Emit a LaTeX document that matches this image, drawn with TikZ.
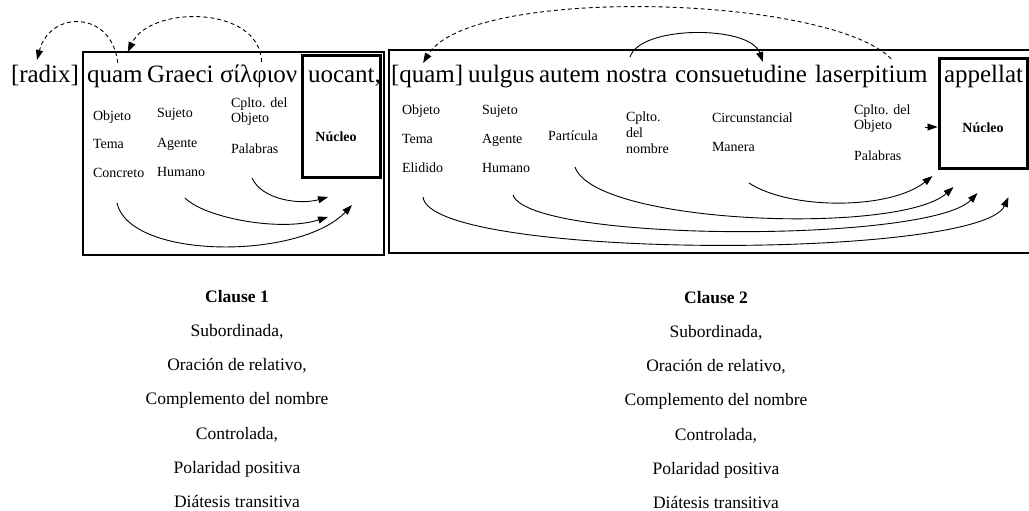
\documentclass[tikz,border=0pt]{standalone}
\usepackage{fontspec}
\setmainfont{Liberation Serif}
\usetikzlibrary{arrows.meta,calc}
\begin{document}
\begin{tikzpicture}[x=1pt,y=-1pt,
  word/.style={anchor=base west,inner sep=0pt,outer sep=0pt,text height=21pt,text depth=6pt,font=\fontsize{25}{30}\selectfont},
  lab/.style={anchor=west,inner sep=0pt,outer sep=0pt,align=left,font=\fontsize{14}{15}\selectfont},
  labone/.style={lab,text height=10pt,text depth=3pt},
  nuctext/.style={inner sep=0pt,font=\fontsize{14}{15}\selectfont\bfseries},
  frame/.style={draw,line width=1.6pt,inner sep=0pt,outer sep=0pt},
  nucbox/.style={draw,line width=3pt,inner sep=0pt,outer sep=0pt},
  rel/.style={-{Triangle[length=10pt,width=7pt]},line width=0.9pt},
  coref/.style={rel,dash pattern=on 4pt off 3pt},
  info/.style={align=center,inner sep=0pt,font=\fontsize{17.5}{34.2}\selectfont},
]
\useasboundingbox (0,0) rectangle (1029,511);

% frames
\node[frame,minimum width=301pt,minimum height=203pt] (box1) at (233.5,153.5) {};
\node[frame,minimum width=646pt,minimum height=203pt] (box2) at (712,151.5) {};
\node[nucbox,minimum width=78pt,minimum height=121pt] (nb1) at (341,116.5) {};
\node[nucbox,minimum width=88pt,minimum height=109pt] (nb2) at (983,113.5) {};

% sentence words
\node[word] (radix) at (11,83) {[radix]};
\node[word] (quamA) at (87,83) {quam};
\node[word] (graeci) at (147,83) {Graeci};
\node[word] (silphion) at (220,83) {σίλφιον};
\node[word] (uocant) at (308,83) {uocant,};
\node[word] (quamB) at (391,83) {[quam]};
\node[word] (uulgus) at (468,83) {uulgus};
\node[word] (autem) at (539,83) {autem};
\node[word] (nostra) at (606,83) {nostra};
\node[word] (consuet) at (675,83) {consuetudine};
\node[word] (laser) at (815,83) {laserpitium};
\node[word] (appellat) at (944,83) {appellat};

% labels clause 1
\node[labone] (obj1) at (93,117) {Objeto};
\node[labone] (tema1) at (93,145) {Tema};
\node[labone] (concreto) at (93,174) {Concreto};
\node[labone] (suj1) at (157,114) {Sujeto};
\node[labone] (agente1) at (157,144) {Agente};
\node[labone] (humano1) at (157,173) {Humano};
\node[lab] (cobj1) at (231,111.5) {Cplto. del\\Objeto};
\node[labone] (palabras1) at (231,150) {Palabras};
\node[nuctext] (nt1) at (336,137) {Núcleo};

% labels clause 2
\node[labone] (obj2) at (402,111) {Objeto};
\node[labone] (tema2) at (402,140) {Tema};
\node[labone] (elidido) at (402,169) {Elidido};
\node[labone] (suj2) at (482,111) {Sujeto};
\node[labone] (agente2) at (482,140) {Agente};
\node[labone] (humano2) at (482,169) {Humano};
\node[labone] (particula) at (548,137) {Partícula};
\node[lab,font=\fontsize{14}{16}\selectfont] (cnom) at (626,133) {Cplto.\\del\\nombre};
\node[labone] (circ) at (712,119) {Circunstancial};
\node[labone] (manera) at (712,148) {Manera};
\node[lab] (cobj2) at (854,118.5) {Cplto. del\\Objeto};
\node[labone] (palabras2) at (854,157) {Palabras};
\node[nuctext] (nt2) at (983,128) {Núcleo};

% clause descriptions
\node[info] (cl1) at (237,399) {\textbf{Clause 1}\\Subordinada,\\Oración de relativo,\\Complemento del nombre\\Controlada,\\Polaridad positiva\\Diátesis transitiva};
\node[info] (cl2) at (716,400) {\textbf{Clause 2}\\Subordinada,\\Oración de relativo,\\Complemento del nombre\\Controlada,\\Polaridad positiva\\Diátesis transitiva};

% coreference (dashed) arrows
\draw[coref] ($(quamA.north)+(3,1)$) .. controls (112,10) and (50,10) .. ($(radix.north)+(-8,-2)$);
\draw[coref] ($(silphion.north)+(3,0)$) .. controls (260,5) and (150,5) .. ($(quamA.north)+(13,-10)$);
\draw[coref] ($(laser.north)+(20,-3)$) .. controls (830,-5) and (470,-15) .. ($(quamB.north)+(-4,1)$);

% solid arrow above clause 2
\draw[rel] ($(nostra.north)+(-6.5,-5)$) .. controls (640,25) and (750,25) .. ($(consuet.north)+(22,0)$);

% clause 1 dependency arrows
\draw[rel] ($(palabras1.south)+(-2.7,21.5)$) .. controls (262,200) and (300,205) .. ($(nb1.south)+(-13,20)$);
\draw[rel] ($(humano1.south)+(3.9,18.5)$) .. controls (205,218) and (280,232) .. ($(nb1.south)+(-13,40)$);
\draw[rel] ($(concreto.south)+(-1.7,22.5)$) .. controls (130,260) and (300,260) .. ($(nb1.south)+(11,28)$);

% clause 2 dependency arrows
\draw[rel] ($(nb2.west)+(-14,13.5)$) -- ($(nb2.west)+(-1.5,13.5)$);
\draw[rel] ($(manera.south)+(15.6,28.5)$) .. controls (790,210) and (890,210) .. ($(nb2.south)+(-50.5,8)$);
\draw[rel] ($(particula.south)+(2.1,23.5)$) .. controls (595,225) and (900,235) .. ($(nb2.south)+(-29.5,19)$);
\draw[rel] ($(humano2.south)+(6.9,19.5)$) .. controls (530,243) and (930,243) .. ($(nb2.south)+(-5.5,25)$);
\draw[rel] ($(elidido.south)+(0.4,21.5)$) .. controls (430,260) and (980,260) .. ($(nb2.south)+(25.5,29)$);
\end{tikzpicture}
\end{document}
